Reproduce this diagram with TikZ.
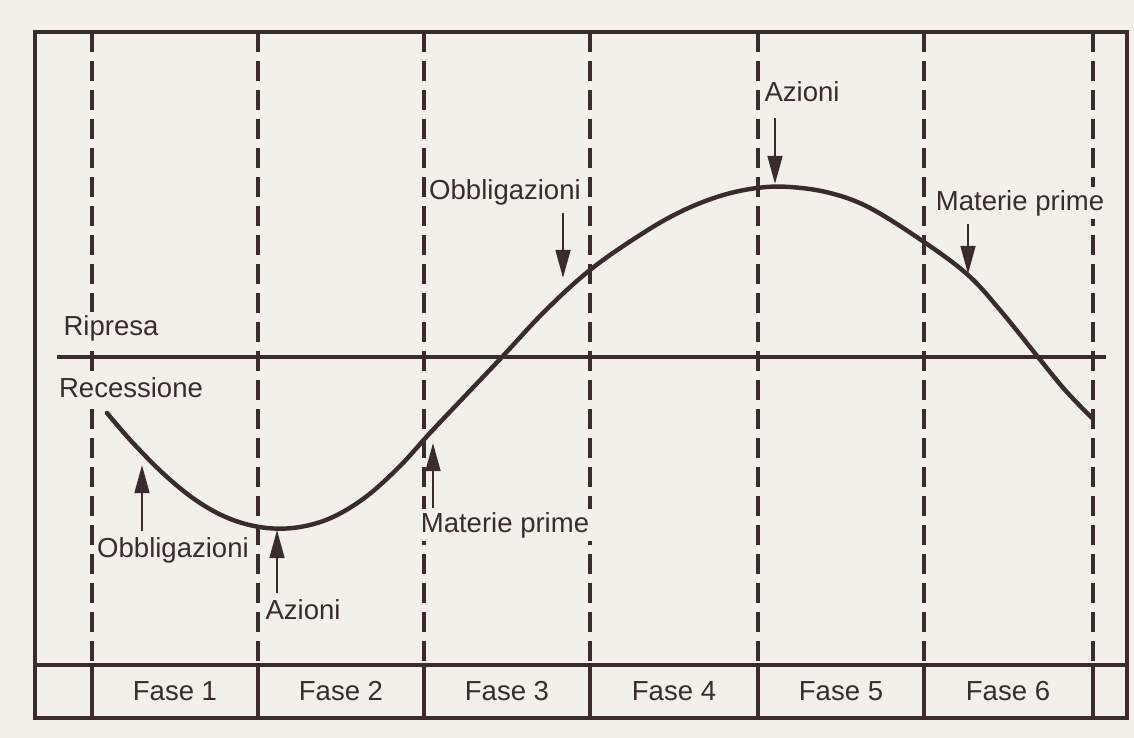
\documentclass[tikz,border=0pt]{standalone}
\usepackage{fontspec}
\setmainfont{Liberation Sans}
\usetikzlibrary{arrows.meta, positioning}
\definecolor{ink}{HTML}{3A2C2C}
\definecolor{paper}{HTML}{F3F0E9}
\tikzset{
    frame_line/.style={
        draw=ink, line width=4pt
    },
    phase_dash/.style={
        draw=ink, line width=2.7pt, dash pattern=on 0.6cm off 0.27cm
    },
    phase_rule/.style={
        draw=ink, line width=2.6pt
    },
    cycle_curve/.style={
        draw=ink, line width=3.8pt, line cap=round
    },
    lbl/.style={
        font=\fontsize{23.5}{27}\selectfont, text=ink, fill=paper, inner sep=3pt
    },
    signal_arrow/.style={
        -{Triangle[length=0.84cm, width=0.44cm]}, draw=ink, fill=ink, line width=2.2pt
    }
}

\begin{document}
\begin{tikzpicture}[x=0.03cm, y=-0.03cm]

    % paper and page size
    \fill[paper] (0,0) rectangle (1134,738);
    \useasboundingbox (0,0) rectangle (1134,738);

    % phase grid
    \foreach \px in {92,258,424,590,758,924,1093} {
        \draw[phase_dash] (\px,32) -- (\px,665);
        \draw[phase_rule] (\px,665) -- (\px,718);
    }
    \draw[phase_rule] (35,665) -- (1127,665);
    \draw[frame_line] (35,32) rectangle (1127,718);

    % zero line and cycle
    \draw[phase_rule] (57,357) -- (1106,357);
    \draw[cycle_curve] plot[smooth, tension=0.6] coordinates {
        (107,413) (133,443) (167,477) (200,503) (233,520) (267,528) (300,527)
        (333,517) (367,496) (400,466) (430,433) (465,396) (502,357) (545,311)
        (590,270) (640,235) (680,212) (720,196) (757,188) (790,187) (830,193)
        (870,208) (924,242) (968,275) (1000,310) (1038,357) (1065,390) (1092,418)
    };

    % labels
    \node[lbl] (ripresa) at (111,328) {Ripresa};
    \node[lbl] (recessione) at (131,388) {Recessione};
    \node[lbl] (obbl_low) at (173,550) {Obbligazioni};
    \node[lbl] (azioni_low) at (303,610) {Azioni};
    \node[lbl] (materie_low) at (505,525) {Materie prime};
    \node[lbl] (obbl_high) at (505,192) {Obbligazioni};
    \node[lbl] (azioni_high) at (802,92) {Azioni};
    \node[lbl] (materie_high) at (1020,203) {Materie prime};

    % phase names
    \foreach \i/\cx in {1/175,2/341,3/507,4/674,5/841,6/1008} {
        \node[lbl, fill=none] (fase\i) at (\cx,691) {Fase \i};
    }

    % arrow ends
    \coordinate (obbl_low_tail) at (142,531);
    \coordinate (obbl_low_tip) at (142,465);
    \coordinate (azioni_low_tail) at (277,593);
    \coordinate (azioni_low_tip) at (277,530);
    \coordinate (materie_low_tail) at (433,508);
    \coordinate (materie_low_tip) at (433,443);
    \coordinate (obbl_high_tail) at (563,213);
    \coordinate (obbl_high_tip) at (563,278);
    \coordinate (azioni_high_tail) at (775,118);
    \coordinate (azioni_high_tip) at (775,184);
    \coordinate (materie_high_tail) at (968,224);
    \coordinate (materie_high_tip) at (968,274);

    \draw[signal_arrow] (obbl_low_tail) -- (obbl_low_tip);
    \draw[signal_arrow] (azioni_low_tail) -- (azioni_low_tip);
    \draw[signal_arrow] (materie_low_tail) -- (materie_low_tip);
    \draw[signal_arrow] (obbl_high_tail) -- (obbl_high_tip);
    \draw[signal_arrow] (azioni_high_tail) -- (azioni_high_tip);
    \draw[signal_arrow] (materie_high_tail) -- (materie_high_tip);

\end{tikzpicture}
\end{document}
